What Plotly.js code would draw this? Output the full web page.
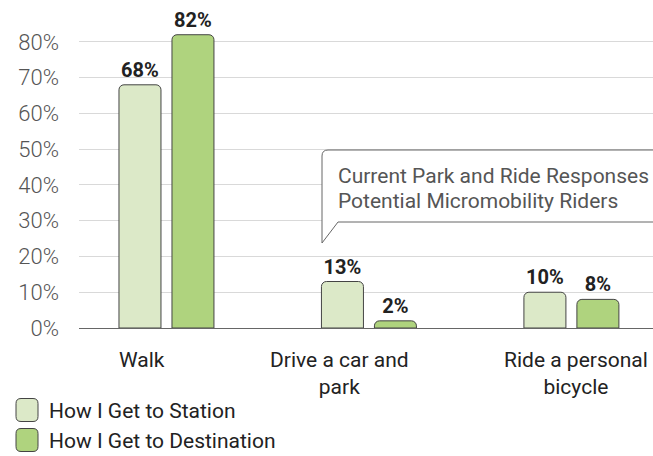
<!DOCTYPE html>
<html>
<head>
<meta charset="utf-8">
<script src="https://cdn.plot.ly/plotly-3.0.1.min.js"></script>
<style>html,body{margin:0;padding:0;background:#fff;}#chart{width:653px;height:456px;}</style>
</head>
<body>
<div id="chart"></div>
<script>
// ---- data ----
const categories = ["Walk", "Drive a car and<br>park", "Ride a personal<br>bicycle"];
const seriesNames = ["How I Get to Station", "How I Get to Destination"];
const stationValues = [68, 13, 10];
const destinationValues = [82, 2, 8];
const yTickValues = [0, 10, 20, 30, 40, 50, 60, 70, 80];
const yTickLabels = ["0%", "10%", "20%", "30%", "40%", "50%", "60%", "70%", "80%"];
const calloutLines = ["Current Park and Ride Responses", "Potential Micromobility Riders"];

// ---- styles / layout constants ----
const W = 653, H = 456;
const M = {l: 79, r: 0, t: 24, b: 128};
const PW = W - M.l - M.r, PH = H - M.t - M.b;
const colors = ["#dce9c8", "#afd37e"];
const outline = "#444444";
const FONT = "Roboto, 'Open Sans', sans-serif";
const catLabelShift = [-24, -29, 5];

function px(x) { return (x - M.l) / PW; }
function py(y) { return (H - M.b - y) / PH; }

const traces = [
  {type: "bar", name: seriesNames[0], x: categories, y: stationValues,
   marker: {color: colors[0], line: {color: outline, width: 1}},
   text: stationValues.map(v => v + "%"), textposition: "outside",
   textfont: {family: FONT, size: 20, color: "#222", weight: 700},
   cliponaxis: false, hoverinfo: "skip", showlegend: false},
  {type: "bar", name: seriesNames[1], x: categories, y: destinationValues,
   marker: {color: colors[1], line: {color: outline, width: 1}},
   text: destinationValues.map(v => v + "%"), textposition: "outside",
   textfont: {family: FONT, size: 20, color: "#222", weight: 700},
   cliponaxis: false, hoverinfo: "skip", showlegend: false}
];

// callout bubble
function P(x, y) { return px(x) + "," + py(y); }
const calloutPath = "M" + P(322, 243) + " L" + P(322, 156) + " Q" + P(322, 150) + " " + P(328, 150) +
  " L" + P(670, 150) + " L" + P(670, 222) + " L" + P(338, 222) + " Z";

const shapes = [
  {type: "path", xref: "paper", yref: "paper", path: calloutPath,
   fillcolor: "#ffffff", line: {color: "#666", width: 1}, layer: "above"}
];

// legend swatches (rounded squares)
function roundRect(x0, y0, x1, y1, r) {
  return "M" + P(x0 + r, y0) + " L" + P(x1 - r, y0) + " Q" + P(x1, y0) + " " + P(x1, y0 + r) +
    " L" + P(x1, y1 - r) + " Q" + P(x1, y1) + " " + P(x1 - r, y1) +
    " L" + P(x0 + r, y1) + " Q" + P(x0, y1) + " " + P(x0, y1 - r) +
    " L" + P(x0, y0 + r) + " Q" + P(x0, y0) + " " + P(x0 + r, y0) + " Z";
}
const legendY = [410, 440];
const annotations = [];
seriesNames.forEach((name, i) => {
  shapes.push({type: "path", xref: "paper", yref: "paper",
    path: roundRect(16, legendY[i] - 11.5, 38, legendY[i] + 11.5, 5),
    fillcolor: colors[i], line: {color: outline, width: 1}, layer: "above"});
  annotations.push({xref: "paper", yref: "paper", x: px(47), y: py(legendY[i] + 1),
    xanchor: "left", yanchor: "middle", showarrow: false, text: name,
    font: {family: FONT, size: 21, color: "#222"}});
});
const calloutY = [176, 201];
calloutLines.forEach((t, i) => {
  annotations.push({xref: "paper", yref: "paper", x: px(336), y: py(calloutY[i]),
    xanchor: "left", yanchor: "middle", showarrow: false, text: t,
    font: {family: FONT, size: 21, color: "#555"}});
});
// category labels (placed at the category positions of the x axis)
categories.forEach((c, i) => {
  annotations.push({xref: "x", yref: "paper", x: c, y: py(346), xshift: catLabelShift[i],
    xanchor: "center", yanchor: "top", showarrow: false, text: c, align: "center",
    font: {family: FONT, size: 21, color: "#222"}});
});

const layout = {
  width: W, height: H,
  margin: M,
  paper_bgcolor: "#fff", plot_bgcolor: "#fff",
  barmode: "group", bargap: 0.4765, bargroupgap: 0.2075,
  barcornerradius: 5,
  showlegend: false,
  font: {family: FONT},
  xaxis: {
    type: "category", range: [-0.432, 2.403], fixedrange: true,
    showgrid: false, showline: false, zeroline: false, ticks: "",
    showticklabels: false
  },
  yaxis: {
    range: [0, 85], fixedrange: true,
    tickvals: yTickValues, ticktext: yTickLabels,
    tickfont: {family: FONT, size: 22, color: "#555", weight: 300},
    showgrid: true, gridcolor: "#d9d9d9", gridwidth: 1,
    zeroline: true, zerolinecolor: "#666", zerolinewidth: 1,
    showline: false, ticks: "", ticklabelstandoff: 19
  },
  shapes: shapes,
  annotations: annotations
};

Plotly.newPlot("chart", traces, layout, {staticPlot: true, displayModeBar: false});
</script>
</body>
</html>
